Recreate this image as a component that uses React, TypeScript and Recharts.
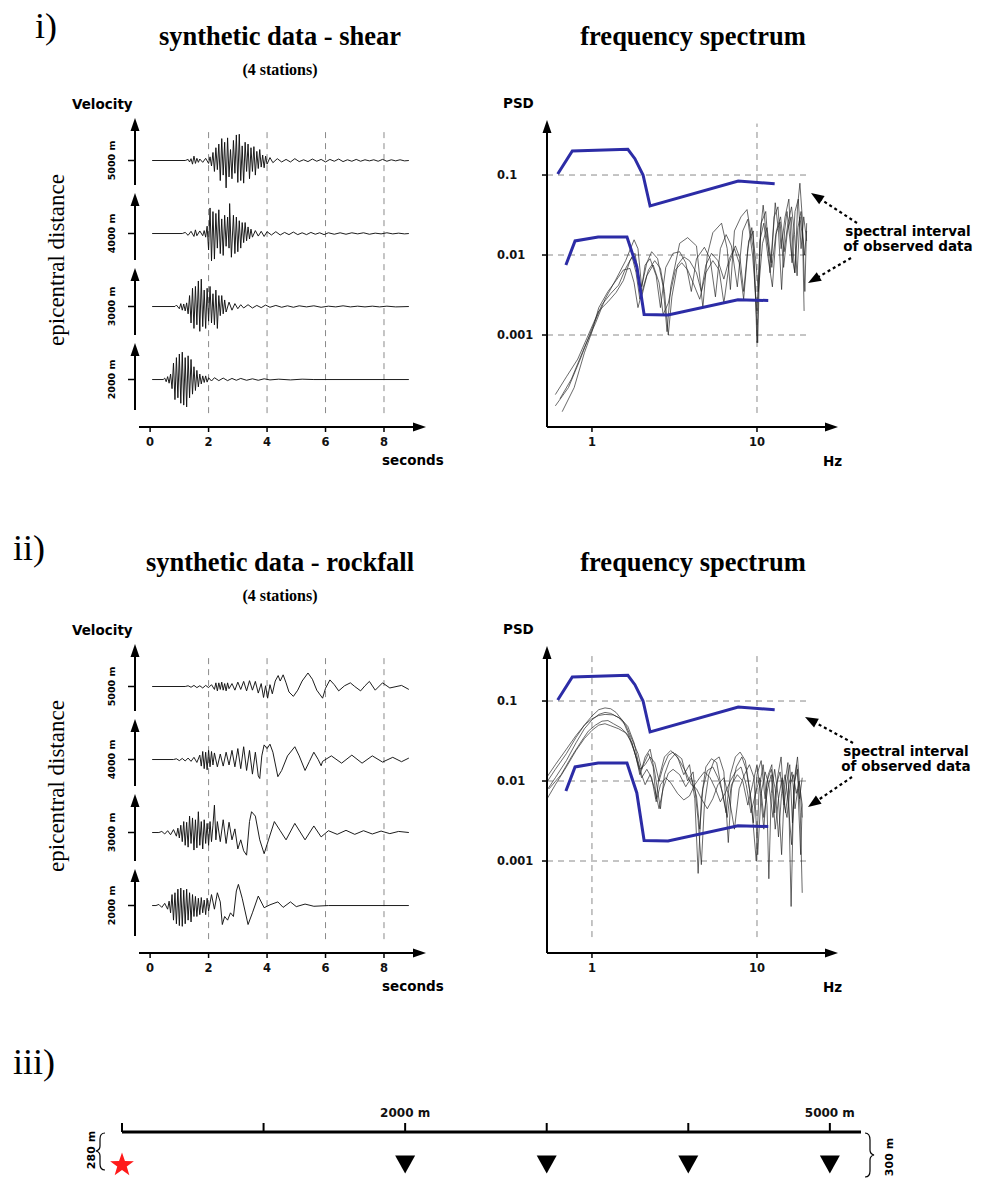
import {
  LineChart,
  Line,
  XAxis,
  YAxis,
  ReferenceLine,
  ScatterChart,
  Scatter,
} from "recharts";

type Pair = [number, number];

const SERIF = '"Liberation Serif", "DejaVu Serif", serif';
const SANS = '"DejaVu Sans", "Noto Sans", sans-serif';
const BLUE = "#2c2ca6";
const INK = "#111";
const GRID = "#8a8a8a";

// ---------- seismograms: [seconds, velocity] ----------
const SHEAR_5000: Pair[] = [
  [0.07, 0], [1.2, 0], [1.3, 0.03], [1.35, -0.04], [1.4, 0.05], [1.45, -0.1], [1.5, 0.12], [1.55, -0.08],
  [1.6, 0.06], [1.65, -0.05], [1.7, 0.04], [1.8, -0.05], [1.9, 0.06], [2.0, -0.08], [2.05, 0.1], [2.1, -0.15],
  [2.15, 0.22], [2.2, -0.3], [2.25, 0.35], [2.3, -0.25], [2.35, 0.45], [2.4, -0.55], [2.45, 0.6], [2.5, -0.4],
  [2.55, 0.5], [2.6, -0.75], [2.65, 0.62], [2.7, -0.45], [2.75, 0.3], [2.8, -0.5], [2.85, 0.55], [2.9, -0.35],
  [2.95, 0.7], [3.0, -0.6], [3.05, 0.72], [3.1, -0.55], [3.15, 0.4], [3.2, -0.62], [3.25, 0.5], [3.3, -0.3],
  [3.35, 0.45], [3.4, -0.5], [3.45, 0.35], [3.5, -0.3], [3.55, 0.38], [3.6, -0.4], [3.65, 0.25], [3.7, -0.22],
  [3.75, 0.3], [3.8, -0.18], [3.85, 0.15], [3.9, -0.2], [3.95, 0.12], [4.0, -0.1], [4.1, 0.08], [4.2, -0.06],
  [4.35, 0.05], [4.5, -0.04], [4.65, 0.03], [4.8, -0.04], [4.95, 0.05], [5.1, -0.03], [5.25, 0.02], [5.4, -0.03],
  [5.55, 0.04], [5.7, -0.02], [5.85, 0.03], [6.0, -0.04], [6.15, 0.03], [6.3, -0.02], [6.45, 0.04], [6.6, -0.03],
  [6.75, 0.02], [6.9, -0.02], [7.05, 0.03], [7.2, -0.02], [7.35, 0.02], [7.5, -0.01], [7.65, 0.02], [7.8, -0.02],
  [7.95, 0.03], [8.1, -0.02], [8.25, 0.02], [8.4, -0.01], [8.55, 0.02], [8.7, -0.01], [8.85, 0],
];
const SHEAR_4000: Pair[] = [
  [0.07, 0], [1.1, 0], [1.2, 0.03], [1.3, -0.05], [1.4, 0.06], [1.5, -0.08], [1.55, 0.1], [1.6, -0.06],
  [1.7, 0.07], [1.8, -0.06], [1.85, 0.08], [1.9, -0.1], [1.95, 0.2], [2.0, -0.45], [2.05, 0.7], [2.1, -0.75],
  [2.15, 0.6], [2.2, -0.7], [2.25, 0.55], [2.3, -0.4], [2.35, 0.65], [2.4, -0.55], [2.45, 0.4], [2.5, -0.6],
  [2.55, 0.5], [2.6, -0.35], [2.65, 0.45], [2.7, -0.4], [2.72, 0.82], [2.78, -0.65], [2.85, 0.5], [2.9, -0.55],
  [2.95, 0.45], [3.0, -0.5], [3.05, 0.35], [3.1, -0.4], [3.15, 0.3], [3.2, -0.25], [3.25, 0.3], [3.3, -0.2],
  [3.35, 0.18], [3.4, -0.15], [3.45, 0.12], [3.5, -0.1], [3.6, 0.08], [3.7, -0.07], [3.8, 0.06], [3.9, -0.08],
  [4.0, 0.05], [4.15, -0.04], [4.3, 0.05], [4.45, -0.04], [4.6, 0.03], [4.75, -0.03], [4.9, 0.04], [5.05, -0.03],
  [5.2, 0.02], [5.35, -0.03], [5.5, 0.03], [5.65, -0.02], [5.8, 0.02], [5.95, -0.03], [6.1, 0.02], [6.3, -0.02],
  [6.5, 0.02], [6.7, -0.02], [6.9, 0.02], [7.1, -0.01], [7.3, 0.02], [7.5, -0.02], [7.7, 0.01], [7.9, -0.01],
  [8.1, 0.02], [8.3, -0.01], [8.5, 0.01], [8.7, -0.01], [8.85, 0],
];
const SHEAR_3000: Pair[] = [
  [0.07, 0], [0.85, 0], [0.9, 0.04], [1.0, -0.06], [1.05, 0.08], [1.1, -0.1], [1.15, 0.07], [1.2, -0.12],
  [1.25, 0.1], [1.3, -0.2], [1.35, 0.3], [1.4, -0.45], [1.45, 0.5], [1.5, -0.6], [1.55, 0.55], [1.6, -0.5],
  [1.65, 0.7], [1.7, -0.68], [1.75, 0.75], [1.8, -0.55], [1.85, 0.45], [1.9, -0.6], [1.95, 0.5], [2.0, -0.4],
  [2.05, 0.55], [2.1, -0.45], [2.15, 0.35], [2.2, -0.5], [2.25, 0.45], [2.3, -0.6], [2.35, 0.3], [2.4, -0.25],
  [2.45, 0.3], [2.5, -0.2], [2.55, 0.18], [2.6, -0.15], [2.7, 0.12], [2.8, -0.1], [2.9, 0.08], [3.0, -0.06],
  [3.1, 0.05], [3.2, -0.04], [3.35, 0.05], [3.5, -0.04], [3.65, 0.03], [3.8, -0.03], [3.95, 0.04], [4.1, -0.02],
  [4.3, 0.03], [4.5, -0.02], [4.7, 0.02], [4.9, -0.02], [5.1, 0.02], [5.35, -0.01], [5.6, 0.02], [5.85, -0.02],
  [6.1, 0.01], [6.35, -0.01], [6.6, 0.02], [6.85, -0.01], [7.1, 0.01], [7.35, -0.01], [7.6, 0.01], [7.85, -0.01],
  [8.1, 0.01], [8.4, -0.01], [8.85, 0],
];
const SHEAR_2000: Pair[] = [
  [0.07, 0], [0.45, 0], [0.5, 0.04], [0.55, -0.06], [0.6, 0.08], [0.65, -0.1], [0.7, 0.15], [0.75, -0.25],
  [0.8, 0.45], [0.85, -0.55], [0.9, 0.6], [0.95, -0.5], [1.0, 0.7], [1.05, -0.65], [1.1, 0.75], [1.15, -0.7],
  [1.2, 0.6], [1.25, -0.75], [1.3, 0.65], [1.35, -0.5], [1.4, 0.55], [1.45, -0.4], [1.5, 0.35], [1.55, -0.3],
  [1.6, 0.25], [1.65, -0.2], [1.7, 0.15], [1.75, -0.12], [1.8, 0.1], [1.85, -0.08], [1.9, 0.1], [1.95, -0.07],
  [2.0, 0.05], [2.1, -0.04], [2.2, 0.05], [2.35, -0.03], [2.5, 0.04], [2.65, -0.03], [2.8, 0.03], [2.95, -0.02],
  [3.1, 0.03], [3.3, -0.02], [3.5, 0.02], [3.7, -0.02], [3.9, 0.02], [4.1, -0.01], [4.4, 0.01], [4.8, -0.01],
  [5.2, 0.01], [5.6, 0], [8.85, 0],
];

const ROCK_5000: Pair[] = [
  [0.07, 0], [1.2, 0], [1.3, 0.02], [1.4, -0.02], [1.5, 0.03], [1.6, -0.03], [1.7, 0.02], [1.8, -0.04],
  [1.9, 0.03], [2.0, -0.03], [2.1, 0.05], [2.2, -0.08], [2.25, 0.1], [2.3, -0.12], [2.35, 0.1], [2.4, -0.08],
  [2.45, 0.12], [2.5, -0.1], [2.55, 0.08], [2.6, -0.12], [2.65, 0.1], [2.7, -0.06], [2.8, 0.08], [2.9, -0.1],
  [3.0, 0.12], [3.1, -0.08], [3.2, 0.14], [3.3, -0.12], [3.4, 0.16], [3.5, -0.1], [3.6, 0.14], [3.7, -0.18],
  [3.8, 0.08], [3.88, -0.3], [3.95, 0.02], [4.02, -0.32], [4.1, 0.05], [4.18, -0.2], [4.28, 0.15], [4.38, 0.3],
  [4.45, 0.15], [4.55, 0.32], [4.65, 0.1], [4.75, -0.15], [4.9, -0.27], [5.05, -0.1], [5.2, 0.15], [5.4, 0.37],
  [5.55, 0.2], [5.7, -0.1], [5.9, -0.32], [6.0, -0.05], [6.15, 0.18], [6.3, 0.05], [6.45, -0.12], [6.65, 0.02],
  [6.85, 0.1], [7.0, 0.0], [7.2, -0.12], [7.35, 0.02], [7.5, 0.14], [7.7, -0.1], [7.95, 0.1], [8.2, -0.04],
  [8.6, 0.03], [8.85, -0.08],
];
const ROCK_4000: Pair[] = [
  [0.07, 0], [0.8, 0], [0.9, 0.02], [1.0, -0.03], [1.1, 0.03], [1.2, -0.04], [1.3, 0.04], [1.4, -0.05],
  [1.5, 0.06], [1.6, -0.08], [1.7, 0.12], [1.75, -0.18], [1.8, 0.22], [1.85, -0.25], [1.9, 0.2], [1.95, -0.28],
  [2.0, 0.25], [2.05, -0.2], [2.1, 0.22], [2.15, -0.15], [2.2, 0.18], [2.3, -0.2], [2.4, 0.15], [2.5, -0.18],
  [2.6, 0.2], [2.7, -0.15], [2.8, 0.25], [2.9, -0.2], [3.0, 0.3], [3.1, -0.25], [3.2, 0.35], [3.3, -0.3],
  [3.4, 0.25], [3.5, -0.4], [3.6, 0.2], [3.7, -0.45], [3.75, -0.52], [3.82, 0.1], [3.9, 0.4], [4.0, 0.3],
  [4.1, 0.42], [4.2, 0.2], [4.37, -0.47], [4.5, -0.3], [4.7, 0.1], [4.95, 0.35], [5.1, 0.1], [5.3, -0.3],
  [5.45, -0.05], [5.6, 0.2], [5.75, 0.0], [5.85, -0.17], [5.9, -0.05], [6.2, 0.1], [6.55, -0.1], [6.9, 0.12],
  [7.25, -0.1], [7.6, 0.1], [7.95, -0.07], [8.3, 0.06], [8.6, -0.06], [8.85, 0.04],
];
const ROCK_3000: Pair[] = [
  [0.07, 0], [0.3, 0], [0.4, 0.03], [0.5, -0.04], [0.6, 0.05], [0.7, -0.06], [0.8, 0.08], [0.9, -0.1],
  [0.95, 0.12], [1.0, -0.15], [1.05, 0.2], [1.1, -0.25], [1.15, 0.3], [1.2, -0.35], [1.25, 0.28], [1.3, -0.4],
  [1.35, 0.45], [1.4, -0.3], [1.45, 0.4], [1.5, -0.48], [1.55, 0.35], [1.6, -0.42], [1.65, 0.57], [1.7, -0.35],
  [1.75, 0.3], [1.8, -0.45], [1.85, 0.35], [1.9, -0.3], [1.95, 0.25], [2.0, -0.35], [2.05, 0.3], [2.1, -0.25],
  [2.15, 0.2], [2.2, 0.75], [2.25, -0.2], [2.3, 0.3], [2.4, -0.25], [2.5, 0.35], [2.6, -0.3], [2.7, 0.28],
  [2.8, -0.2], [2.9, 0.1], [3.0, -0.45], [3.1, -0.2], [3.2, -0.5], [3.3, -0.62], [3.4, 0.3], [3.47, 0.57],
  [3.6, 0.45], [3.75, -0.2], [3.9, -0.58], [4.05, -0.2], [4.25, 0.3], [4.45, 0.05], [4.65, -0.2], [4.95, 0.25],
  [5.3, -0.2], [5.6, 0.18], [5.85, -0.12], [6.1, 0.05], [6.4, -0.05], [6.7, 0.06], [7.0, -0.05], [7.3, 0.05],
  [7.6, -0.04], [7.9, 0.04], [8.2, -0.03], [8.5, 0.03], [8.85, 0],
];
const ROCK_2000: Pair[] = [
  [0.07, 0], [0.2, 0], [0.3, 0.03], [0.4, -0.05], [0.5, 0.06], [0.6, -0.1], [0.65, 0.12], [0.7, -0.2],
  [0.75, 0.3], [0.8, -0.4], [0.85, 0.35], [0.9, -0.5], [0.95, 0.45], [1.0, -0.55], [1.05, 0.48], [1.1, -0.57],
  [1.15, 0.42], [1.2, -0.5], [1.25, 0.45], [1.3, -0.4], [1.35, 0.35], [1.4, -0.45], [1.45, 0.3], [1.5, -0.3],
  [1.55, 0.25], [1.6, -0.3], [1.65, 0.2], [1.7, -0.25], [1.75, 0.22], [1.8, -0.2], [1.85, 0.15], [1.9, -0.25],
  [1.95, 0.2], [2.0, -0.15], [2.1, 0.3], [2.2, -0.1], [2.3, 0.35], [2.4, 0.1], [2.47, -0.52], [2.55, -0.3],
  [2.65, -0.4], [2.75, -0.2], [2.85, -0.3], [2.95, 0.4], [3.02, 0.58], [3.15, 0.2], [3.35, -0.52], [3.5, -0.2],
  [3.7, 0.26], [3.9, -0.06], [4.1, 0.02], [4.37, 0.1], [4.55, -0.05], [4.8, 0.1], [5.0, -0.03], [5.3, 0.04],
  [5.6, -0.02], [6.1, 0], [8.85, 0],
];

const STATION_LABELS = ["5000 m", "4000 m", "3000 m", "2000 m"];
const TIME_TICKS = [0, 2, 4, 6, 8];
const TIME_GRID = [2, 4, 6, 8];

// ---------- spectra: [Hz, PSD] ----------
const UPPER_BOUND: Pair[] = [
  [0.62, 0.103], [0.76, 0.2], [1.65, 0.21], [1.82, 0.16], [2.04, 0.1], [2.25, 0.041], [7.7, 0.084], [12.8, 0.078],
];
const LOWER_BOUND: Pair[] = [
  [0.695, 0.0075], [0.79, 0.015], [1.09, 0.0168], [1.63, 0.0168], [1.87, 0.0071], [2.07, 0.0018],
  [2.89, 0.00178], [7.67, 0.00275], [11.7, 0.0027],
];

const SHEAR_SPEC_A: Pair[] = [
  [0.64, 0.00016], [0.75, 0.00028], [0.9, 0.0007], [1.05, 0.0014], [1.2, 0.0028], [1.4, 0.005], [1.6, 0.0085],
  [1.8, 0.0155], [1.9, 0.012], [2.0, 0.004], [2.15, 0.008], [2.3, 0.011], [2.5, 0.009], [2.7, 0.004],
  [2.85, 0.0011], [3.0, 0.004], [3.4, 0.014], [3.8, 0.0165], [4.3, 0.013], [4.7, 0.0022], [5.0, 0.01],
  [5.4, 0.019], [6.1, 0.025], [6.6, 0.012], [6.9, 0.0037], [7.3, 0.02], [8.0, 0.03], [8.7, 0.037], [9.5, 0.012],
  [10.1, 0.0008], [10.5, 0.02], [10.9, 0.042], [11.5, 0.015], [12.2, 0.008], [12.9, 0.045], [13.5, 0.02],
  [14.1, 0.0037], [14.7, 0.02], [15.2, 0.035], [16.2, 0.01], [17.0, 0.006], [17.6, 0.04], [18.2, 0.079],
  [18.8, 0.03], [19.3, 0.002],
];
const SHEAR_SPEC_B: Pair[] = [
  [0.6, 0.00013], [0.72, 0.00022], [0.85, 0.0005], [1.0, 0.0012], [1.15, 0.0024], [1.3, 0.0033], [1.45, 0.0042],
  [1.6, 0.0068], [1.75, 0.0095], [1.85, 0.006], [1.95, 0.0028], [2.1, 0.0075], [2.25, 0.009], [2.45, 0.0055],
  [2.6, 0.0022], [2.8, 0.007], [3.1, 0.0105], [3.4, 0.011], [3.7, 0.008], [4.0, 0.0035], [4.3, 0.009],
  [4.8, 0.0125], [5.2, 0.009], [5.6, 0.003], [6.0, 0.012], [6.5, 0.018], [7.0, 0.013], [7.6, 0.004], [8.2, 0.02],
  [8.8, 0.028], [9.4, 0.01], [10.0, 0.002], [10.6, 0.025], [11.3, 0.035], [12.0, 0.006], [12.7, 0.03],
  [13.4, 0.04], [14.0, 0.012], [14.8, 0.03], [15.6, 0.05], [16.3, 0.008], [17.0, 0.035], [17.8, 0.05],
  [18.5, 0.012], [19.2, 0.03], [20.0, 0.015],
];
const SHEAR_SPEC_C: Pair[] = [
  [0.66, 0.00011], [0.78, 0.00022], [0.9, 0.0006], [1.0, 0.0011], [1.1, 0.0022], [1.25, 0.0035], [1.4, 0.0048],
  [1.55, 0.0065], [1.7, 0.0068], [1.8, 0.0045], [1.9, 0.0022], [2.05, 0.004], [2.2, 0.0065], [2.4, 0.0085],
  [2.6, 0.0068], [2.75, 0.0035], [2.9, 0.001], [3.05, 0.003], [3.3, 0.0075], [3.6, 0.0095], [3.9, 0.0085],
  [4.3, 0.006], [4.6, 0.0035], [4.9, 0.0075], [5.3, 0.0105], [5.8, 0.0085], [6.3, 0.005], [6.8, 0.009],
  [7.4, 0.013], [7.9, 0.009], [8.3, 0.0035], [8.8, 0.012], [9.3, 0.022], [9.8, 0.009], [10.2, 0.0035],
  [10.8, 0.014], [11.5, 0.022], [12.3, 0.007], [13.0, 0.018], [13.8, 0.026], [14.5, 0.007], [15.3, 0.02],
  [16.1, 0.03], [16.9, 0.006], [17.7, 0.022], [18.5, 0.035], [19.4, 0.01], [20.0, 0.02],
];
const SHEAR_SPEC_D: Pair[] = [
  [0.6, 0.00018], [0.7, 0.0003], [0.82, 0.0005], [0.95, 0.001], [1.1, 0.002], [1.25, 0.0026], [1.4, 0.0034],
  [1.55, 0.0048], [1.7, 0.0085], [1.82, 0.0105], [1.9, 0.0065], [2.0, 0.003], [2.15, 0.0055], [2.35, 0.0075],
  [2.55, 0.0045], [2.7, 0.0018], [2.9, 0.0025], [3.2, 0.0065], [3.5, 0.008], [3.8, 0.0065], [4.1, 0.0045],
  [4.5, 0.0028], [4.9, 0.006], [5.4, 0.0085], [5.9, 0.0065], [6.3, 0.0025], [6.8, 0.008], [7.3, 0.012],
  [7.8, 0.008], [8.3, 0.0028], [8.9, 0.015], [9.5, 0.02], [10.0, 0.0008], [10.4, 0.015], [11.0, 0.025],
  [11.7, 0.009], [12.4, 0.004], [13.1, 0.02], [13.9, 0.03], [14.6, 0.011], [15.4, 0.025], [16.2, 0.04],
  [16.9, 0.018], [17.5, 0.0055], [18.2, 0.03], [19.0, 0.015], [19.5, 0.0035], [20.0, 0.025],
];

const ROCK_SPEC_A: Pair[] = [
  [0.53, 0.0095], [0.6, 0.014], [0.7, 0.022], [0.8, 0.035], [0.9, 0.05], [1.0, 0.065], [1.1, 0.078], [1.2, 0.082],
  [1.3, 0.08], [1.4, 0.072], [1.55, 0.055], [1.7, 0.035], [1.85, 0.02], [1.95, 0.012], [2.05, 0.016], [2.2, 0.022],
  [2.35, 0.015], [2.45, 0.006], [2.55, 0.011], [2.75, 0.02], [3.0, 0.024], [3.3, 0.02], [3.6, 0.012],
  [3.9, 0.016], [4.2, 0.006], [4.4, 0.0007], [4.6, 0.006], [4.9, 0.015], [5.3, 0.019], [5.7, 0.017],
  [6.1, 0.008], [6.5, 0.004], [6.9, 0.012], [7.4, 0.02], [7.9, 0.023], [8.5, 0.018], [9.0, 0.008], [9.5, 0.003],
  [10.0, 0.012], [10.6, 0.018], [11.2, 0.006], [11.7, 0.012], [12.3, 0.016], [12.8, 0.004], [13.4, 0.012],
  [14.0, 0.02], [14.6, 0.005], [15.2, 0.01], [15.8, 0.016], [16.4, 0.003], [17.0, 0.012], [17.6, 0.02],
  [18.2, 0.008], [18.8, 0.0035],
];
const ROCK_SPEC_B: Pair[] = [
  [0.53, 0.0075], [0.6, 0.011], [0.7, 0.018], [0.8, 0.03], [0.9, 0.045], [1.0, 0.058], [1.1, 0.068], [1.2, 0.072],
  [1.3, 0.07], [1.45, 0.062], [1.6, 0.05], [1.75, 0.033], [1.9, 0.022], [2.0, 0.014], [2.1, 0.02], [2.25, 0.025],
  [2.4, 0.013], [2.6, 0.0045], [2.75, 0.012], [2.95, 0.018], [3.2, 0.022], [3.5, 0.019], [3.8, 0.01],
  [4.1, 0.013], [4.4, 0.0032], [4.6, 0.0009], [4.8, 0.005], [5.1, 0.012], [5.5, 0.018], [5.9, 0.02],
  [6.3, 0.013], [6.7, 0.0017], [7.0, 0.008], [7.5, 0.015], [8.1, 0.02], [8.6, 0.014], [9.2, 0.006], [9.9, 0.001],
  [10.3, 0.008], [10.9, 0.016], [11.5, 0.005], [11.8, 0.0006], [12.2, 0.007], [12.8, 0.014], [13.5, 0.006],
  [14.1, 0.0012], [14.7, 0.009], [15.4, 0.017], [16.1, 0.00027], [16.7, 0.008], [17.4, 0.016], [18.1, 0.006],
  [18.8, 0.011],
];
const ROCK_SPEC_C: Pair[] = [
  [0.53, 0.0058], [0.6, 0.009], [0.7, 0.015], [0.8, 0.024], [0.9, 0.034], [1.0, 0.043], [1.1, 0.05], [1.2, 0.052],
  [1.3, 0.049], [1.45, 0.045], [1.6, 0.04], [1.75, 0.03], [1.9, 0.016], [2.0, 0.011], [2.15, 0.014], [2.3, 0.011],
  [2.45, 0.0055], [2.6, 0.009], [2.8, 0.011], [3.0, 0.0095], [3.3, 0.007], [3.6, 0.0058], [3.9, 0.0065],
  [4.2, 0.009], [4.5, 0.011], [4.8, 0.013], [5.2, 0.011], [5.6, 0.008], [6.0, 0.0055], [6.4, 0.007], [6.9, 0.01],
  [7.4, 0.013], [8.0, 0.015], [8.6, 0.009], [9.2, 0.004], [9.8, 0.007], [10.4, 0.011], [11.0, 0.0035],
  [11.6, 0.008], [12.2, 0.012], [12.9, 0.0025], [13.5, 0.006], [14.2, 0.011], [14.9, 0.004], [15.6, 0.009],
  [16.3, 0.013], [17.0, 0.0045], [17.7, 0.008], [18.4, 0.0012], [18.8, 0.005],
];
const ROCK_SPEC_D: Pair[] = [
  [0.53, 0.011], [0.6, 0.016], [0.7, 0.025], [0.8, 0.037], [0.9, 0.05], [1.0, 0.06], [1.1, 0.066], [1.2, 0.068],
  [1.35, 0.067], [1.5, 0.06], [1.65, 0.048], [1.8, 0.03], [1.9, 0.018], [2.0, 0.012], [2.1, 0.009], [2.25, 0.012],
  [2.4, 0.008], [2.55, 0.0045], [2.7, 0.008], [2.9, 0.0125], [3.1, 0.014], [3.4, 0.012], [3.7, 0.0085],
  [4.0, 0.011], [4.3, 0.0065], [4.5, 0.0025], [4.7, 0.008], [5.0, 0.0135], [5.4, 0.015], [5.8, 0.011],
  [6.2, 0.007], [6.6, 0.0035], [7.0, 0.009], [7.6, 0.012], [8.2, 0.01], [8.8, 0.005], [9.4, 0.009], [10.0, 0.016],
  [10.5, 0.007], [11.0, 0.0025], [11.5, 0.01], [12.2, 0.014], [12.9, 0.008], [13.5, 0.002], [14.1, 0.007],
  [14.8, 0.012], [15.5, 0.005], [16.2, 0.0016], [16.9, 0.01], [17.6, 0.014], [18.3, 0.004], [18.8, 0.0004],
];
const ROCK_SPEC_E: Pair[] = [
  [0.55, 0.008], [0.65, 0.012], [0.75, 0.02], [0.85, 0.03], [0.95, 0.042], [1.05, 0.05], [1.15, 0.056],
  [1.25, 0.057], [1.35, 0.052], [1.5, 0.046], [1.65, 0.038], [1.8, 0.024], [1.95, 0.014], [2.1, 0.016],
  [2.25, 0.02], [2.4, 0.017], [2.55, 0.01], [2.7, 0.015], [2.9, 0.021], [3.1, 0.023], [3.4, 0.018], [3.7, 0.013],
  [4.0, 0.009], [4.3, 0.008], [4.6, 0.006], [5.0, 0.0045], [5.4, 0.006], [5.8, 0.009], [6.3, 0.011], [6.8, 0.006],
  [7.3, 0.0025], [7.8, 0.008], [8.4, 0.012], [9.0, 0.016], [9.6, 0.011], [10.1, 0.0012], [10.6, 0.007],
  [11.2, 0.013], [11.8, 0.009], [12.5, 0.0035], [13.1, 0.009], [13.8, 0.013], [14.5, 0.0055], [15.2, 0.0035],
  [15.9, 0.009], [16.6, 0.012], [17.3, 0.007], [18.0, 0.01], [18.8, 0.005],
];

const PSD_TICKS = [0.001, 0.01, 0.1];
const HZ_TICKS = [1, 10];

// ---------- station layout ----------
const DISTANCE_TICKS = [0, 1000, 2000, 3000, 4000, 5000];
const LABELLED_DISTANCES = [2000, 5000];
const SOURCE_POS = [{ x: 0, y: -280 }];
const STATION_X = [2000, 3000, 4000, 5000];
const STATION_DEPTH = -300;

// ---------- plotting config ----------
const BAND_IDS = ["s5000", "s4000", "s3000", "s2000"];
const BAND_DOMAINS: Pair[] = [[-7.3, 1], [-5.3, 3], [-3.3, 5], [-1.3, 7]];
const BAND_TOPS = [118, 193, 268, 343];
const BAND_MIDS = [160.5, 233.5, 306.5, 379.5];
const SPEC_X_DOMAIN: Pair = [0.534, 29.7];
const SPEC_Y_DOMAIN: Pair = [7.08e-5, 0.447];

const toXY = (arr: Pair[]) => arr.map(([x, y]) => ({ x, y }));

const tickFont = { fontSize: 11.5, fontWeight: 700, fontFamily: SANS, fill: "#111" };

function Head({ x1, y1, x2, y2, len = 12, half = 4.5 }: any) {
  const d = Math.hypot(x2 - x1, y2 - y1);
  const ux = (x2 - x1) / d;
  const uy = (y2 - y1) / d;
  const bx = x2 - ux * len;
  const by = y2 - uy * len;
  return (
    <polygon
      points={`${x2},${y2} ${bx - uy * half},${by + ux * half} ${bx + uy * half},${by - ux * half}`}
      fill="#000"
    />
  );
}

function Arrow({ x1, y1, x2, y2, dash, w = 2, len = 12, half = 4.5 }: any) {
  const d = Math.hypot(x2 - x1, y2 - y1);
  const ex = x2 - ((x2 - x1) / d) * (len - 2);
  const ey = y2 - ((y2 - y1) / d) * (len - 2);
  return (
    <g>
      <line x1={x1} y1={y1} x2={ex} y2={ey} stroke="#000" strokeWidth={w} strokeDasharray={dash} />
      <Head x1={x1} y1={y1} x2={x2} y2={y2} len={len} half={half} />
    </g>
  );
}

function SeismoPanel({ top, traces }: { top: number; traces: Pair[][] }) {
  return (
    <div style={{ position: "absolute", left: 0, top, width: 440, height: 480 }}>
      <LineChart width={440} height={480} margin={{ top: 124, right: 18, bottom: 0, left: 139 }}>
        <XAxis
          type="number"
          dataKey="x"
          domain={[-0.38, 9.3]}
          allowDataOverflow
          ticks={TIME_TICKS}
          height={53}
          axisLine={{ stroke: "#000", strokeWidth: 2 }}
          tickLine={{ stroke: "#000", strokeWidth: 1.5 }}
          tickSize={5}
          tickMargin={6}
          tick={tickFont}
        />
        {BAND_IDS.map((id, i) => (
          <YAxis key={id} yAxisId={id} type="number" hide domain={BAND_DOMAINS[i]} allowDataOverflow />
        ))}
        {TIME_GRID.map((t) => (
          <ReferenceLine
            key={t}
            yAxisId="s2000"
            segment={[{ x: t, y: -0.92 }, { x: t, y: 6.89 }]}
            stroke={GRID}
            strokeDasharray="6 5"
            strokeWidth={1}
          />
        ))}
        {traces.map((tr, i) => (
          <Line
            key={BAND_IDS[i]}
            yAxisId={BAND_IDS[i]}
            data={toXY(tr)}
            dataKey="y"
            type="linear"
            stroke={INK}
            strokeWidth={0.95}
            dot={false}
            isAnimationActive={false}
          />
        ))}
      </LineChart>
    </div>
  );
}

function PsdTick({ x, y, payload }: any) {
  return (
    <text x={x - 43} y={y} dy="0.36em" textAnchor="start" {...tickFont}>
      {String(payload.value)}
    </text>
  );
}

function SpectrumPanel({
  top,
  curves,
  vGrid,
  vTop,
  vBottom,
}: {
  top: number;
  curves: Pair[][];
  vGrid: number[];
  vTop: number;
  vBottom: number;
}) {
  return (
    <div style={{ position: "absolute", left: 480, top: top + 80, width: 360, height: 387 }}>
      <LineChart width={360} height={387} margin={{ top: 43, right: 5, bottom: 0, left: 0 }}>
        <XAxis
          type="number"
          dataKey="x"
          scale="log"
          domain={SPEC_X_DOMAIN}
          allowDataOverflow
          ticks={HZ_TICKS}
          height={40}
          axisLine={{ stroke: "#000", strokeWidth: 2 }}
          tickLine={{ stroke: "#000", strokeWidth: 1.5 }}
          tickSize={5}
          tickMargin={6}
          tick={tickFont}
        />
        <YAxis
          type="number"
          scale="log"
          domain={SPEC_Y_DOMAIN}
          allowDataOverflow
          ticks={PSD_TICKS}
          width={67}
          axisLine={{ stroke: "#000", strokeWidth: 2 }}
          tickLine={{ stroke: "#000", strokeWidth: 1.5 }}
          tickSize={5}
          tick={<PsdTick />}
        />
        {PSD_TICKS.map((p) => (
          <ReferenceLine
            key={p}
            segment={[{ x: 0.534, y: p }, { x: 20.1, y: p }]}
            stroke={GRID}
            strokeDasharray="6 5"
            strokeWidth={1}
          />
        ))}
        {vGrid.map((f) => (
          <ReferenceLine
            key={f}
            segment={[{ x: f, y: vBottom }, { x: f, y: vTop }]}
            stroke={GRID}
            strokeDasharray="6 5"
            strokeWidth={1}
          />
        ))}
        {curves.map((c, i) => (
          <Line
            key={i}
            data={toXY(c)}
            dataKey="y"
            type="linear"
            stroke="#222"
            strokeOpacity={0.85}
            strokeWidth={0.8}
            dot={false}
            isAnimationActive={false}
          />
        ))}
        {[UPPER_BOUND, LOWER_BOUND].map((c, i) => (
          <Line
            key={`b${i}`}
            data={toXY(c)}
            dataKey="y"
            type="linear"
            stroke={BLUE}
            strokeWidth={3}
            dot={false}
            isAnimationActive={false}
          />
        ))}
      </LineChart>
    </div>
  );
}

function PanelDecor({
  dy,
  label,
  labelX,
  labelY,
  title,
  noteY,
  noteX,
  arrows,
}: any) {
  return (
    <g transform={`translate(0, ${dy})`}>
      <text x={labelX} y={labelY} fontFamily={SERIF} fontSize={36}>
        {label}
      </text>
      <text x={280} y={45} textAnchor="middle" fontFamily={SERIF} fontWeight={700} fontSize={26.5}>
        {title}
      </text>
      <text x={280} y={75} textAnchor="middle" fontFamily={SERIF} fontWeight={700} fontSize={16}>
        (4 stations)
      </text>
      <text x={693} y={45} textAnchor="middle" fontFamily={SERIF} fontWeight={700} fontSize={26.5}>
        frequency spectrum
      </text>

      {/* seismogram axes */}
      <text x={72} y={109} fontFamily={SANS} fontWeight={700} fontSize={13.5}>
        Velocity
      </text>
      <text
        transform="translate(64, 260) rotate(-90)"
        textAnchor="middle"
        fontFamily={SERIF}
        fontSize={23}
      >
        epicentral distance
      </text>
      {BAND_TOPS.map((t, i) => (
        <g key={i}>
          <Arrow x1={135} y1={t + 67} x2={135} y2={t} w={2} len={13} half={4.5} />
          <line x1={128} y1={BAND_MIDS[i]} x2={135} y2={BAND_MIDS[i]} stroke="#000" strokeWidth={1.5} />
          <text
            transform={`translate(114.5, ${BAND_MIDS[i]}) rotate(-90)`}
            textAnchor="middle"
            fontFamily={SANS}
            fontWeight={700}
            fontSize={9.5}
          >
            {STATION_LABELS[i]}
          </text>
        </g>
      ))}
      <Head x1={400} y1={427} x2={426} y2={427} len={13} half={4.5} />
      <text x={382} y={465} fontFamily={SANS} fontWeight={700} fontSize={13.5}>
        seconds
      </text>

      {/* spectrum axes */}
      <Head x1={547} y1={150} x2={547} y2={120} len={13} half={4.5} />
      <Head x1={810} y1={427} x2={838} y2={427} len={13} half={4.5} />
      <text x={503} y={108} fontFamily={SANS} fontWeight={700} fontSize={13.5}>
        PSD
      </text>
      <text x={823} y={466} fontFamily={SANS} fontWeight={700} fontSize={13.5}>
        Hz
      </text>
      <text x={noteX} y={noteY} textAnchor="middle" fontFamily={SANS} fontWeight={700} fontSize={13.5}>
        spectral interval
      </text>
      <text x={noteX} y={noteY + 15} textAnchor="middle" fontFamily={SANS} fontWeight={700} fontSize={13.5}>
        of observed data
      </text>
      {arrows.map((a: number[], i: number) => (
        <Arrow key={i} x1={a[0]} y1={a[1]} x2={a[2]} y2={a[3]} dash="3 3" w={2.2} len={13} half={5} />
      ))}
    </g>
  );
}

function StarShape({ cx, cy }: any) {
  const pts: string[] = [];
  for (let k = 0; k < 10; k++) {
    const r = k % 2 === 0 ? 12.5 : 5;
    const a = -Math.PI / 2 + (k * Math.PI) / 5;
    pts.push(`${cx + r * Math.cos(a)},${cy + r * Math.sin(a)}`);
  }
  return <polygon points={pts.join(" ")} fill="#ff1a1a" />;
}

function TriangleShape({ cx, cy }: any) {
  return <polygon points={`${cx - 10},${cy - 12} ${cx + 10},${cy - 12} ${cx},${cy + 6}`} fill="#000" />;
}

function LayoutPanel() {
  const stations = STATION_X.map((x) => ({ x, y: STATION_DEPTH }));
  return (
    <div style={{ position: "absolute", left: 0, top: 1095, width: 981, height: 84 }}>
      <ScatterChart width={981} height={84} margin={{ top: 0, right: 120, bottom: 1, left: 122 }}>
        <XAxis
          type="number"
          dataKey="x"
          orientation="top"
          domain={[0, 5220]}
          ticks={DISTANCE_TICKS}
          tickFormatter={(v: number) => (LABELLED_DISTANCES.includes(v) ? `${v} m` : "")}
          height={37}
          axisLine={{ stroke: "#000", strokeWidth: 3 }}
          tickLine={{ stroke: "#000", strokeWidth: 2 }}
          tickSize={9}
          tickMargin={6}
          tick={{ ...tickFont, fontSize: 12 }}
        />
        <YAxis type="number" dataKey="y" hide domain={[-390, 0]} />
        <Scatter data={SOURCE_POS} shape={StarShape} isAnimationActive={false} />
        <Scatter data={stations} shape={TriangleShape} isAnimationActive={false} />
      </ScatterChart>
    </div>
  );
}

export default function App() {
  return (
    <div
      style={{
        position: "absolute",
        left: 0,
        top: 0,
        width: 981,
        height: 1179,
        background: "#fff",
        overflow: "hidden",
      }}
    >
      <SeismoPanel top={0} traces={[SHEAR_5000, SHEAR_4000, SHEAR_3000, SHEAR_2000]} />
      <SpectrumPanel
        top={0}
        curves={[SHEAR_SPEC_A, SHEAR_SPEC_B, SHEAR_SPEC_C, SHEAR_SPEC_D]}
        vGrid={[10]}
        vTop={0.44}
        vBottom={1.06e-4}
      />
      <SeismoPanel top={526} traces={[ROCK_5000, ROCK_4000, ROCK_3000, ROCK_2000]} />
      <SpectrumPanel
        top={526}
        curves={[ROCK_SPEC_A, ROCK_SPEC_B, ROCK_SPEC_C, ROCK_SPEC_D, ROCK_SPEC_E]}
        vGrid={[1, 10]}
        vTop={0.41}
        vBottom={1.12e-4}
      />
      <LayoutPanel />

      <svg
        width={981}
        height={1179}
        style={{ position: "absolute", left: 0, top: 0, pointerEvents: "none" }}
      >
        <PanelDecor
          dy={0}
          label="i)"
          labelX={35}
          labelY={38}
          title="synthetic data - shear"
          noteX={908}
          noteY={236}
          arrows={[
            [857, 223, 811, 193],
            [851, 258, 808, 283],
          ]}
        />
        <PanelDecor
          dy={526}
          label="ii)"
          labelX={13}
          labelY={34}
          title="synthetic data - rockfall"
          noteX={906}
          noteY={230}
          arrows={[
            [853, 217, 805, 191],
            [852, 251, 808, 281],
          ]}
        />

        {/* station layout */}
        <text x={13} y={1074} fontFamily={SERIF} fontSize={36}>
          iii)
        </text>
        <path
          d="M105,1133 Q100,1133 100,1139 L100,1146 Q100,1150 96,1151 Q100,1152 100,1156 L100,1164 Q100,1170 105,1170"
          fill="none"
          stroke="#000"
          strokeWidth={1.2}
        />
        <text
          transform="translate(95, 1150) rotate(-90)"
          textAnchor="middle"
          fontFamily={SANS}
          fontWeight={700}
          fontSize={11}
        >
          280 m
        </text>
        <path
          d="M865,1133 Q870,1133 870,1140 L870,1150 Q870,1154 874,1155 Q870,1156 870,1160 L870,1171 Q870,1177 865,1177"
          fill="none"
          stroke="#000"
          strokeWidth={1.2}
        />
        <text
          transform="translate(893, 1157) rotate(-90)"
          textAnchor="middle"
          fontFamily={SANS}
          fontWeight={700}
          fontSize={11}
        >
          300 m
        </text>
      </svg>
    </div>
  );
}
